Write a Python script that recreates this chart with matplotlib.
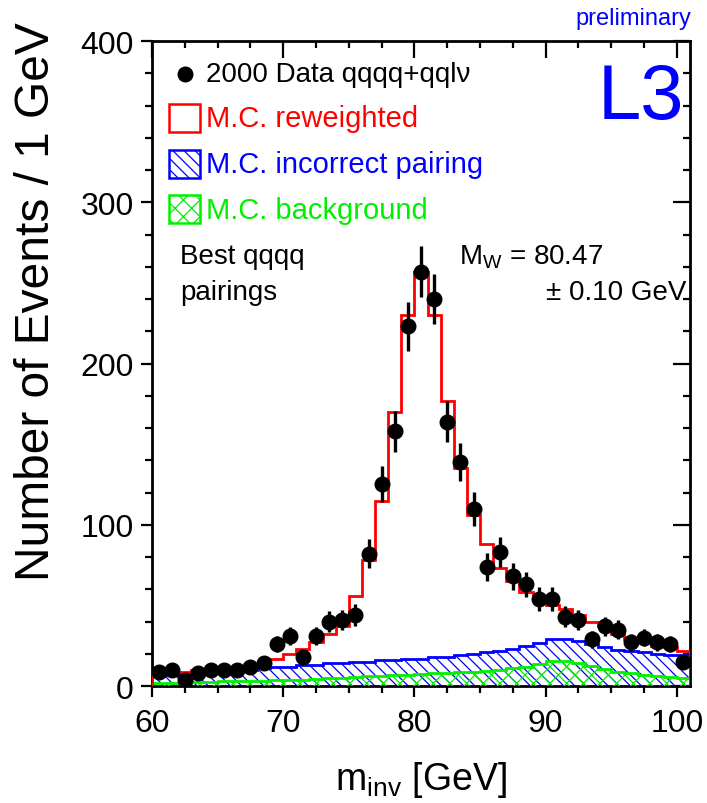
import numpy as np
import matplotlib
matplotlib.use("Agg")
import matplotlib.pyplot as plt
from matplotlib.patches import Rectangle
from matplotlib.ticker import MultipleLocator

plt.rcParams['font.family'] = ['Liberation Sans', 'DejaVu Sans']
plt.rcParams['mathtext.default'] = 'regular'
plt.rcParams['hatch.linewidth'] = 0.9

# 1 GeV bins from 60 to 101
bin_edges = np.arange(60, 102, 1)
bin_centers = bin_edges[:-1] + 0.5

data_counts = [9, 10, 4, 8, 10, 10, 10, 12, 14, 26,
               31, 18, 31, 40, 41, 44, 82, 125, 158, 223,
               257, 240, 164, 139, 110, 74, 83, 68, 63, 54,
               54, 43, 41, 29, 37, 35, 27, 30, 27, 26, 15]

mc_reweighted = [9, 9, 9, 10, 10, 10, 11, 12, 13, 17,
                 20, 23, 27, 32, 37, 56, 78, 115, 170, 230,
                 257, 230, 177, 135, 106, 88, 73, 65, 58, 54,
                 50, 48, 44, 40, 37, 32, 29, 27, 25, 24, 22]

mc_wrong_pair = [7, 7, 8, 8, 9, 9, 10, 10, 11, 12,
                 12, 13, 13, 14, 14, 15, 15, 16, 16, 17,
                 17, 18, 18, 19, 20, 21, 21.5, 23, 25, 26.5,
                 29, 29, 28, 26, 24.5, 22.5, 21.5, 21, 20, 19.5, 19]

mc_background = [2, 2, 2, 2.5, 2.5, 3, 3, 3, 3, 3.5,
                 3.5, 4, 4.5, 5, 5, 5.5, 6, 6.5, 7, 7,
                 7.5, 8, 8, 8.5, 9, 9.5, 10, 11, 12, 13.5,
                 15.5, 15.5, 14.5, 12.5, 10.5, 9, 8, 7, 6.5, 5.5, 5]

legend_labels = ['2000 Data qqqq+qql\u03bd', 'M.C. reweighted',
                 'M.C. incorrect pairing', 'M.C. background']

BLUE = '#0000ff'
GREEN = '#00f000'
RED = '#ff0000'

fig = plt.figure(figsize=(7.07, 8.04), dpi=100)
ax = fig.add_axes([0.2150, 0.1455, 0.7610, 0.8022])

# MC components
ax.stairs(mc_wrong_pair, bin_edges, fill=True, facecolor='none', edgecolor=BLUE,
          hatch='\\\\\\', linewidth=2.0, zorder=2)
ax.stairs(mc_background, bin_edges, fill=True, facecolor='none', edgecolor=GREEN,
          hatch='xx', linewidth=2.0, zorder=3)
ax.stairs(mc_reweighted, bin_edges, baseline=0, color=RED, linewidth=2.0, zorder=4)

# data
data = np.array(data_counts, dtype=float)
ax.errorbar(bin_centers, data, yerr=np.sqrt(data), fmt='o', color='black',
            ms=10.5, elinewidth=2.4, capsize=0, zorder=6)

ax.set_xlim(60, 101)
ax.set_ylim(0, 400)
ax.xaxis.set_major_locator(MultipleLocator(10))
ax.xaxis.set_minor_locator(MultipleLocator(2.5))
ax.yaxis.set_major_locator(MultipleLocator(100))
ax.yaxis.set_minor_locator(MultipleLocator(20))
ax.tick_params(which='both', direction='out', width=1.6, labelsize=23, top=False, right=False)
ax.tick_params(which='major', length=8)
ax.tick_params(which='minor', length=5)
ax.tick_params(axis='x', which='major', pad=8)
ax.tick_params(axis='y', which='major', pad=5)
for sp in ax.spines.values():
    sp.set_linewidth(2.0)

# inward ticks on top and right
top = ax.secondary_xaxis('top')
top.xaxis.set_major_locator(MultipleLocator(10))
top.xaxis.set_minor_locator(MultipleLocator(2.5))
top.tick_params(which='both', direction='in', width=1.6, labeltop=False)
top.tick_params(which='major', length=12)
top.tick_params(which='minor', length=5)
right = ax.secondary_yaxis('right')
right.yaxis.set_major_locator(MultipleLocator(100))
right.yaxis.set_minor_locator(MultipleLocator(20))
right.tick_params(which='both', direction='in', width=1.6, labelright=False)
right.tick_params(which='major', length=12)
right.tick_params(which='minor', length=5)

# axis titles
fig.text(37 / 707, 1 - 22 / 804, 'Number of Events / 1 GeV', rotation=90,
         ha='center', va='top', fontsize=34.5)
fig.text(335 / 707, 1 - 790 / 804, 'm$_{inv}$ [GeV]', ha='left', va='baseline',
         fontsize=27)
fig.text(691 / 707, 1 - 25 / 804, 'preliminary', ha='right', va='baseline',
         fontsize=17, color=BLUE)

# legend, drawn by hand
tx = 0.100
ax.plot([0.0613], [0.949], 'o', color='black', ms=10.5, transform=ax.transAxes,
        clip_on=False, zorder=7)
ax.text(tx, 0.949, legend_labels[0], transform=ax.transAxes, fontsize=20,
        va='center', ha='left')
boxes = [(0.859, RED, None, legend_labels[1]),
         (0.7876, BLUE, '\\\\\\', legend_labels[2]),
         (0.7178, GREEN, 'xx', legend_labels[3])]
for y0, col, hatch, lab in boxes:
    ax.add_patch(Rectangle((0.0316, y0), 0.0576, 0.044, transform=ax.transAxes,
                           facecolor='none', edgecolor=col, hatch=hatch,
                           linewidth=1.8, zorder=7))
    ax.text(tx, y0 + 0.021, lab, transform=ax.transAxes, fontsize=21,
            va='center', ha='left', color=col)

ax.text(0.909, 0.912, 'L3', transform=ax.transAxes, fontsize=56, color=BLUE,
        ha='center', va='center')
ax.text(0.052, 0.667, 'Best qqqq', transform=ax.transAxes, fontsize=20,
        ha='left', va='center')
ax.text(0.052, 0.611, 'pairings', transform=ax.transAxes, fontsize=20,
        ha='left', va='center')
ax.text(0.5706, 0.667, 'M$_{W}$ = 80.47', transform=ax.transAxes, fontsize=20,
        ha='left', va='center')
ax.text(0.9926, 0.611, '\u00b1 0.10 GeV', transform=ax.transAxes, fontsize=20,
        ha='right', va='center')

fig.savefig('out.png', dpi=100)
